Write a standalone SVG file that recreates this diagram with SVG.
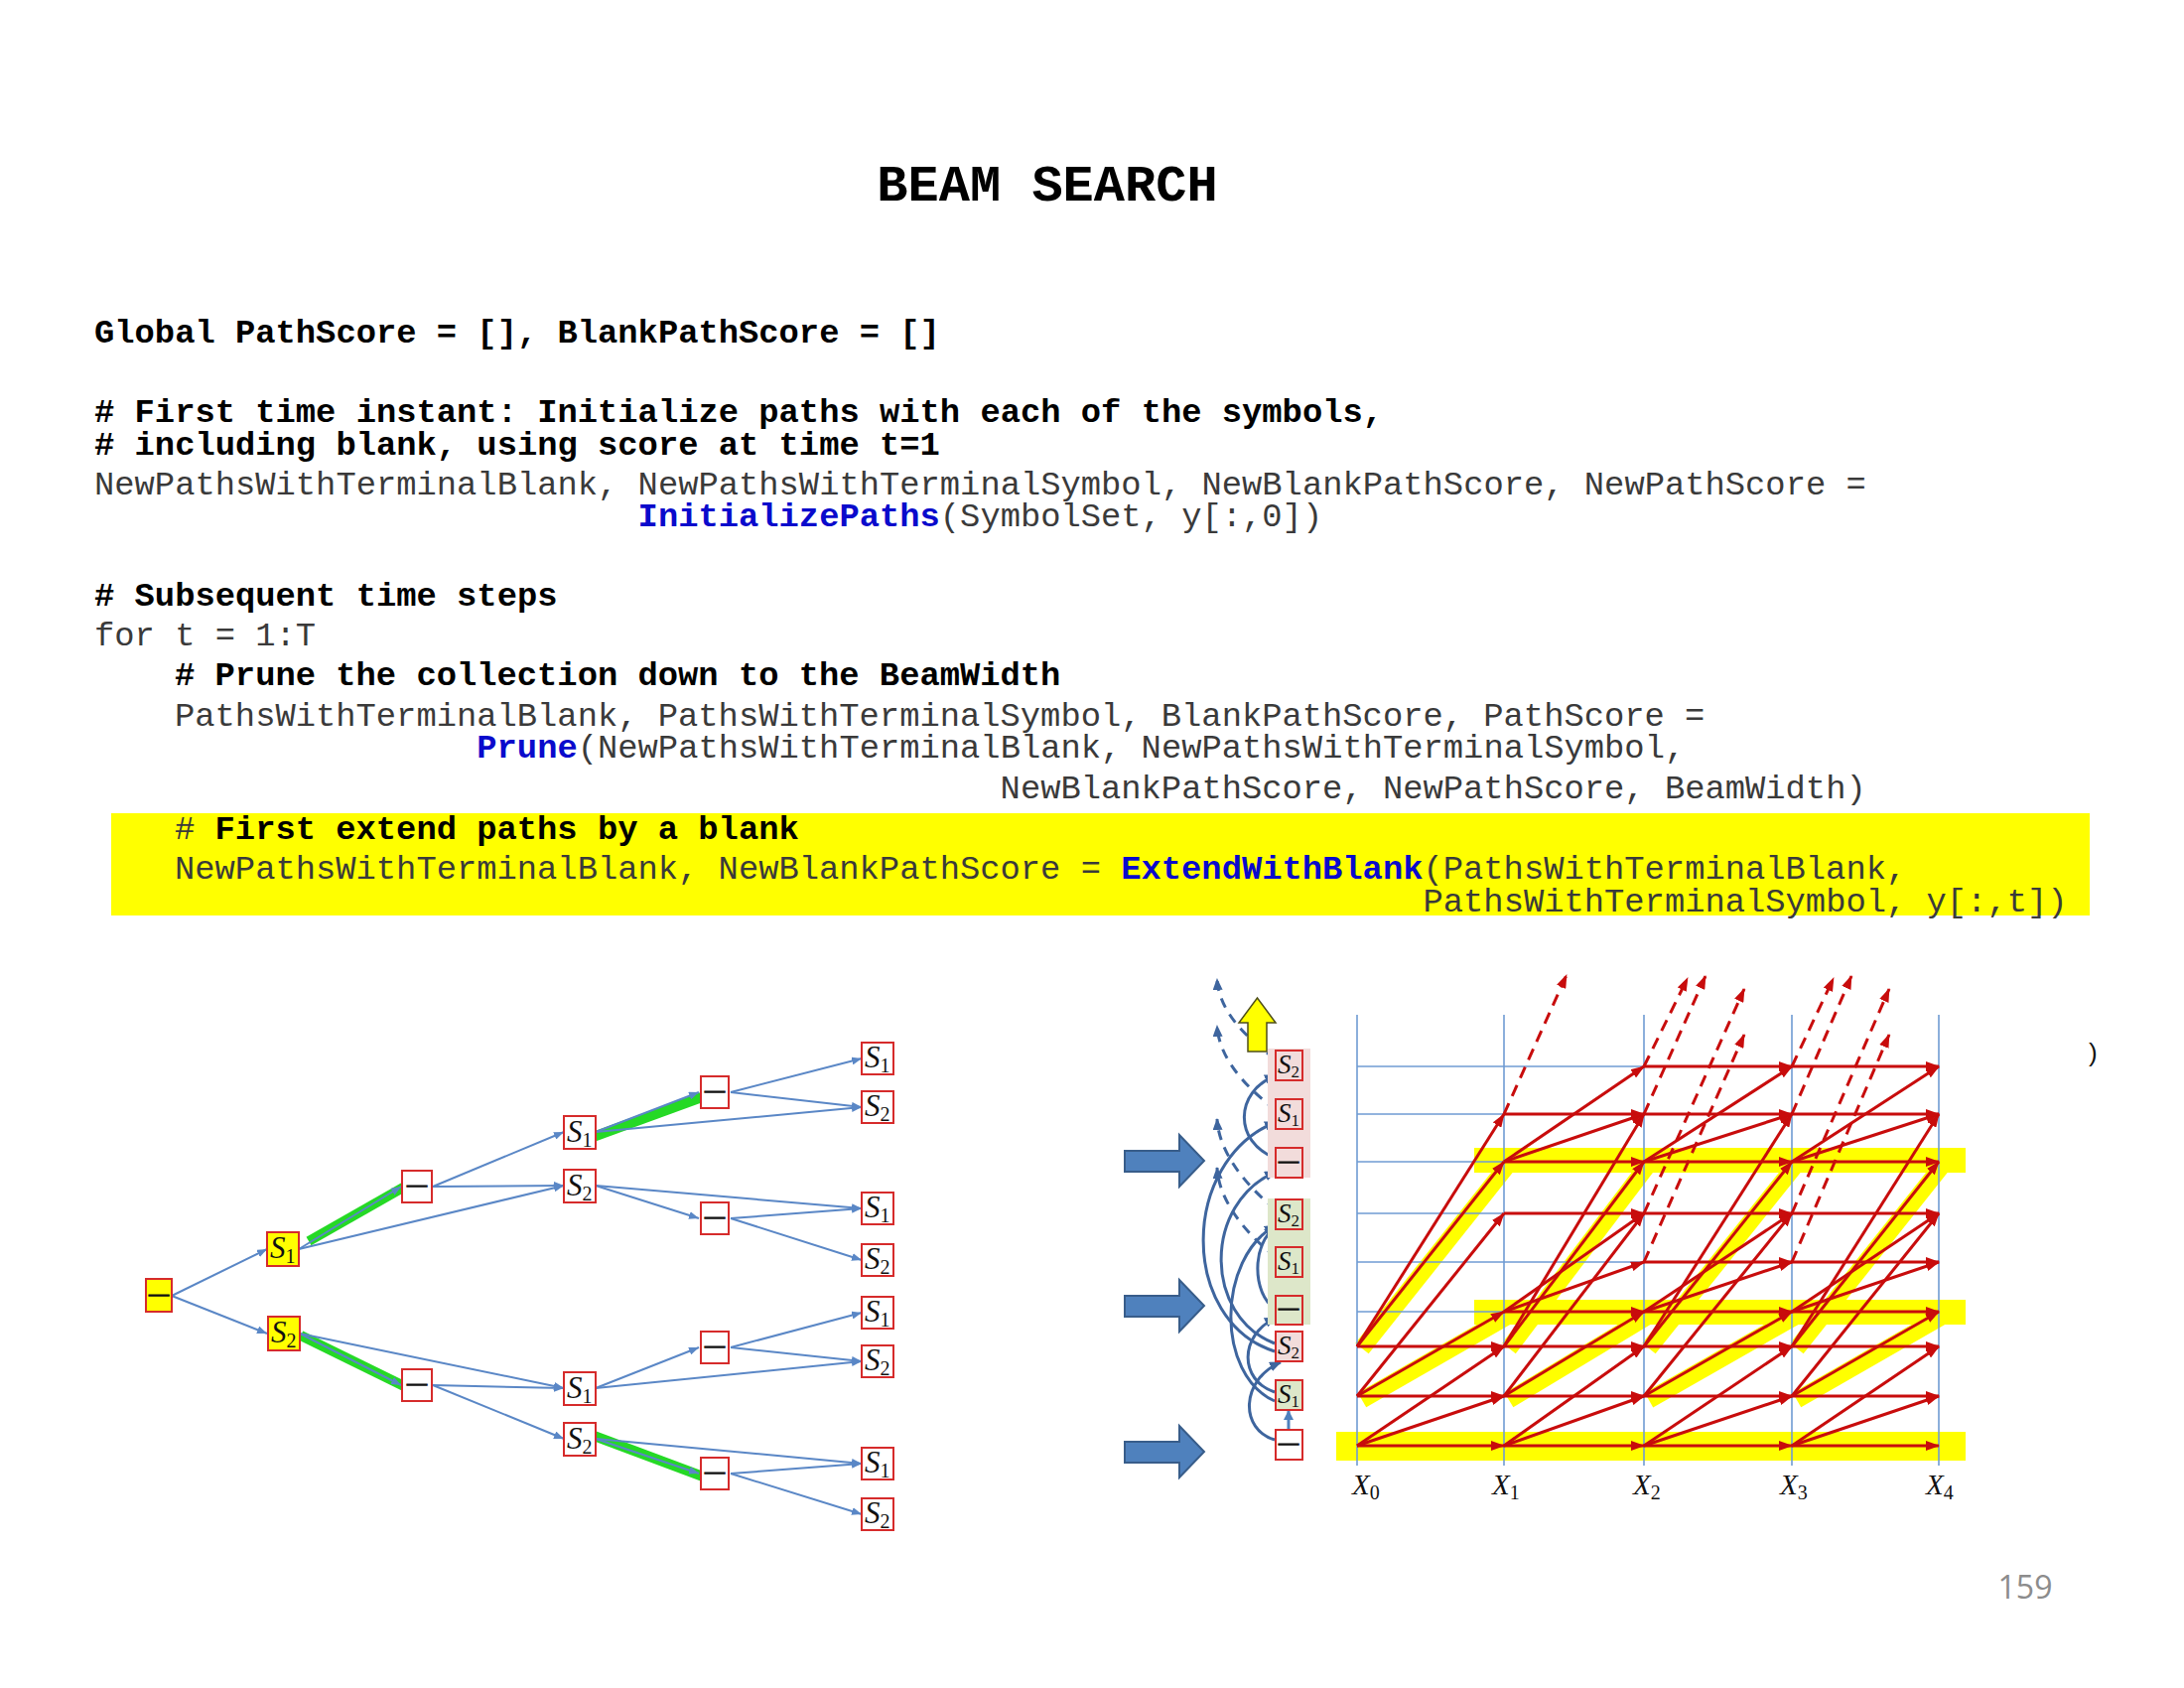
<svg xmlns="http://www.w3.org/2000/svg" width="2200" height="1700" viewBox="0 0 2200 1700">
<style>
  .code { font-family: "Liberation Mono", "Courier New", monospace; font-size: 33.8px; white-space: pre; }
  .cb { font-weight: bold; fill: #000; }
  .cr { fill: #3a3a3a; }
  .fn { font-weight: bold; fill: #0a0acc; }
  .title { font-family: "Liberation Mono", monospace; font-size: 52px; font-weight: bold; fill: #000; }
  .box { fill: #fff; stroke: #d62b2b; stroke-width: 2; }
  .ybox { fill: #ffff00; stroke: #d62b2b; stroke-width: 2; }
  .sym { font-family: "Liberation Serif", "Times New Roman", serif; font-style: italic; font-size: 31px; fill: #111; }
  .sub { font-style: normal; font-size: 20px; }
  .ssym { font-size: 27px; }
  .ssub { font-size: 17px; }
  .blank { font-family: "Liberation Serif", serif; font-size: 20px; fill: #111; stroke: #111; stroke-width: 1.1; text-anchor: middle; }
  .tedge { stroke: #5a87c6; stroke-width: 2; fill: none; marker-end: url(#ab); }
  .green { stroke: #25d925; stroke-width: 10; stroke-linecap: butt; }
  .grid { stroke: #6f9bd3; stroke-width: 1.6; }
  .red { stroke: #c80c0c; stroke-width: 3; marker-end: url(#ar); }
  .reddash { stroke: #c80c0c; stroke-width: 3; stroke-dasharray: 12 8; fill: none; marker-end: url(#ar); }
  .hl { stroke: #ffff00; stroke-width: 17; stroke-linecap: butt; }
  .curve { stroke: #3e659e; stroke-width: 3; fill: none; marker-end: url(#ad); }
  .cdash { stroke: #3e659e; stroke-width: 3; fill: none; stroke-dasharray: 10 8; marker-end: url(#ad); }
  .up { stroke: #4f81bd; stroke-width: 3; marker-end: url(#au); }
  .xl { font-family: "Liberation Serif", serif; font-style: italic; font-size: 29px; fill: #111; }
  .bigarrow { fill: #4f81bd; stroke: #385d8a; stroke-width: 2; }
</style>
<defs>
  <marker id="ab" viewBox="0 0 10 8" refX="10" refY="4" markerWidth="10" markerHeight="8" markerUnits="userSpaceOnUse" orient="auto"><path d="M0,0 L10,4 L0,8 z" fill="#5a87c6"/></marker>
  <marker id="ar" viewBox="0 0 14 10" refX="13" refY="5" markerWidth="14" markerHeight="10" markerUnits="userSpaceOnUse" orient="auto"><path d="M0,0 L14,5 L0,10 z" fill="#c80c0c"/></marker>
  <marker id="ad" viewBox="0 0 12 10" refX="11" refY="5" markerWidth="12" markerHeight="10" markerUnits="userSpaceOnUse" orient="auto"><path d="M0,0 L12,5 L0,10 z" fill="#3e659e"/></marker>
  <marker id="au" viewBox="0 0 10 10" refX="9" refY="5" markerWidth="10" markerHeight="10" markerUnits="userSpaceOnUse" orient="auto"><path d="M0,0 L10,5 L0,10 z" fill="#4f81bd"/></marker>
</defs>
<rect x="0" y="0" width="2200" height="1700" fill="#fff"/>

<!-- heading -->
<text class="title" x="1055" y="202" text-anchor="middle">BEAM SEARCH</text>

<!-- pseudocode -->
<g id="code" class="code">
  <text class="cb" x="95" y="345">Global PathScore = [], BlankPathScore = []</text>
  <text class="cb" x="95" y="425"># First time instant: Initialize paths with each of the symbols,</text>
  <text class="cb" x="95" y="458"># including blank, using score at time t=1</text>
  <text class="cr" x="95" y="498">NewPathsWithTerminalBlank, NewPathsWithTerminalSymbol, NewBlankPathScore, NewPathScore =</text>
  <text x="642.6" y="530"><tspan class="fn">InitializePaths</tspan><tspan class="cr">(SymbolSet, y[:,0])</tspan></text>
  <text class="cb" x="95" y="610"># Subsequent time steps</text>
  <text class="cr" x="95" y="650">for t = 1:T</text>
  <text class="cb" x="176" y="690"># Prune the collection down to the BeamWidth</text>
  <text class="cr" x="176" y="731">PathsWithTerminalBlank, PathsWithTerminalSymbol, BlankPathScore, PathScore =</text>
  <text x="480.3" y="763"><tspan class="fn">Prune</tspan><tspan class="cr">(NewPathsWithTerminalBlank, NewPathsWithTerminalSymbol,</tspan></text>
  <text class="cr" x="1007.6" y="804">NewBlankPathScore, NewPathScore, BeamWidth)</text>
  <rect x="112" y="819" width="1993" height="103" fill="#ffff00"/>
  <text x="176" y="845"><tspan class="cr">#</tspan><tspan class="cb"> First extend paths by a blank</tspan></text>
  <text x="176" y="885"><tspan class="cr">NewPathsWithTerminalBlank, NewBlankPathScore = </tspan><tspan class="fn">ExtendWithBlank</tspan><tspan class="cr">(PathsWithTerminalBlank,</tspan></text>
  <text class="cr" x="1433.5" y="918">PathsWithTerminalSymbol, y[:,t])</text>
</g>

<!-- ===== path tree (left) ===== -->
<g id="tree-connectors">
  <line class="green" x1="311" y1="1250" x2="420" y2="1188"/>
  <line class="green" x1="303" y1="1345" x2="407" y2="1396"/>
  <line class="green" x1="592" y1="1147" x2="707" y2="1105"/>
  <line class="green" x1="593" y1="1444" x2="708" y2="1487"/>
  <line class="tedge" x1="173" y1="1305" x2="269" y2="1258"/>
  <line class="tedge" x1="173" y1="1305" x2="269" y2="1343"/>
  <line class="tedge" x1="301" y1="1258" x2="404" y2="1195"/>
  <line class="tedge" x1="301" y1="1258" x2="568" y2="1194"/>
  <line class="tedge" x1="302" y1="1343" x2="404" y2="1395"/>
  <line class="tedge" x1="302" y1="1343" x2="568" y2="1398"/>
  <line class="tedge" x1="436" y1="1195" x2="568" y2="1140"/>
  <line class="tedge" x1="436" y1="1195" x2="568" y2="1194"/>
  <line class="tedge" x1="436" y1="1395" x2="568" y2="1398"/>
  <line class="tedge" x1="436" y1="1395" x2="568" y2="1449"/>
  <line class="tedge" x1="600" y1="1140" x2="704" y2="1100"/>
  <line class="tedge" x1="600" y1="1140" x2="868" y2="1115"/>
  <line class="tedge" x1="600" y1="1194" x2="704" y2="1227"/>
  <line class="tedge" x1="600" y1="1194" x2="868" y2="1217"/>
  <line class="tedge" x1="600" y1="1398" x2="704" y2="1357"/>
  <line class="tedge" x1="600" y1="1398" x2="868" y2="1371"/>
  <line class="tedge" x1="600" y1="1449" x2="704" y2="1484"/>
  <line class="tedge" x1="600" y1="1449" x2="868" y2="1474"/>
  <line class="tedge" x1="736" y1="1100" x2="868" y2="1066"/>
  <line class="tedge" x1="736" y1="1100" x2="868" y2="1115"/>
  <line class="tedge" x1="736" y1="1227" x2="868" y2="1217"/>
  <line class="tedge" x1="736" y1="1227" x2="868" y2="1269"/>
  <line class="tedge" x1="736" y1="1357" x2="868" y2="1322"/>
  <line class="tedge" x1="736" y1="1357" x2="868" y2="1371"/>
  <line class="tedge" x1="736" y1="1484" x2="868" y2="1474"/>
  <line class="tedge" x1="736" y1="1484" x2="868" y2="1525"/>
</g>

<g id="t-root"><rect class="ybox" x="147" y="1288" width="26" height="33"/><text class="blank" x="160" y="1310">—</text></g>
<g id="t-a1"><rect class="ybox" x="269" y="1241" width="32" height="34"/><text class="sym" x="272" y="1267">S<tspan class="sub" dy="5">1</tspan></text></g>
<g id="t-a2"><rect class="ybox" x="270" y="1326" width="32" height="34"/><text class="sym" x="273" y="1352">S<tspan class="sub" dy="5">2</tspan></text></g>
<g id="t-b1"><rect class="box" x="405" y="1179" width="30" height="32"/><text class="blank" x="420" y="1200">—</text></g>
<g id="t-b2"><rect class="box" x="405" y="1379" width="30" height="32"/><text class="blank" x="420" y="1400">—</text></g>
<g id="t-c1"><rect class="box" x="568" y="1124" width="32" height="33"/><text class="sym" x="571" y="1150">S<tspan class="sub" dy="5">1</tspan></text></g>
<g id="t-c2"><rect class="box" x="568" y="1178" width="32" height="33"/><text class="sym" x="571" y="1204">S<tspan class="sub" dy="5">2</tspan></text></g>
<g id="t-c3"><rect class="box" x="568" y="1382" width="32" height="33"/><text class="sym" x="571" y="1408">S<tspan class="sub" dy="5">1</tspan></text></g>
<g id="t-c4"><rect class="box" x="568" y="1433" width="32" height="33"/><text class="sym" x="571" y="1459">S<tspan class="sub" dy="5">2</tspan></text></g>
<g id="t-d1"><rect class="box" x="706" y="1084" width="28" height="32"/><text class="blank" x="720" y="1105">—</text></g>
<g id="t-d2"><rect class="box" x="706" y="1211" width="28" height="32"/><text class="blank" x="720" y="1232">—</text></g>
<g id="t-d3"><rect class="box" x="706" y="1341" width="28" height="32"/><text class="blank" x="720" y="1362">—</text></g>
<g id="t-d4"><rect class="box" x="706" y="1468" width="28" height="32"/><text class="blank" x="720" y="1489">—</text></g>
<g id="t-e1"><rect class="box" x="868" y="1050" width="32" height="32"/><text class="sym" x="871" y="1075">S<tspan class="sub" dy="5">1</tspan></text></g>
<g id="t-e2"><rect class="box" x="868" y="1099" width="32" height="32"/><text class="sym" x="871" y="1124">S<tspan class="sub" dy="5">2</tspan></text></g>
<g id="t-e3"><rect class="box" x="868" y="1201" width="32" height="32"/><text class="sym" x="871" y="1226">S<tspan class="sub" dy="5">1</tspan></text></g>
<g id="t-e4"><rect class="box" x="868" y="1253" width="32" height="32"/><text class="sym" x="871" y="1278">S<tspan class="sub" dy="5">2</tspan></text></g>
<g id="t-e5"><rect class="box" x="868" y="1306" width="32" height="32"/><text class="sym" x="871" y="1331">S<tspan class="sub" dy="5">1</tspan></text></g>
<g id="t-e6"><rect class="box" x="868" y="1355" width="32" height="32"/><text class="sym" x="871" y="1380">S<tspan class="sub" dy="5">2</tspan></text></g>
<g id="t-e7"><rect class="box" x="868" y="1458" width="32" height="32"/><text class="sym" x="871" y="1483">S<tspan class="sub" dy="5">1</tspan></text></g>
<g id="t-e8"><rect class="box" x="868" y="1509" width="32" height="32"/><text class="sym" x="871" y="1534">S<tspan class="sub" dy="5">2</tspan></text></g>

<!-- ===== trellis (right) ===== -->
<!-- yellow beam highlights -->
<g id="highlights">
  <rect x="1346" y="1442" width="634" height="29" fill="#ffff00"/>
  <rect x="1485" y="1156" width="495" height="25" fill="#ffff00"/>
  <rect x="1485" y="1309" width="495" height="25" fill="#ffff00"/>
  <line class="hl" x1="1372" y1="1358" x2="1520" y2="1172"/>
  <line class="hl" x1="1372" y1="1410" x2="1520" y2="1325"/>
  <line class="hl" x1="1520" y1="1358" x2="1661" y2="1172"/>
  <line class="hl" x1="1520" y1="1410" x2="1661" y2="1325"/>
  <line class="hl" x1="1661" y1="1358" x2="1810" y2="1172"/>
  <line class="hl" x1="1661" y1="1410" x2="1810" y2="1325"/>
  <line class="hl" x1="1810" y1="1358" x2="1958" y2="1172"/>
  <line class="hl" x1="1810" y1="1410" x2="1958" y2="1325"/>
</g>

<!-- time grid -->
<g id="grid">
  <line class="grid" x1="1367" y1="1022" x2="1367" y2="1476"/>
  <line class="grid" x1="1515" y1="1022" x2="1515" y2="1476"/>
  <line class="grid" x1="1656" y1="1022" x2="1656" y2="1476"/>
  <line class="grid" x1="1805" y1="1022" x2="1805" y2="1476"/>
  <line class="grid" x1="1953" y1="1022" x2="1953" y2="1476"/>
  <line class="grid" x1="1367" y1="1074" x2="1953" y2="1074"/>
  <line class="grid" x1="1367" y1="1122" x2="1953" y2="1122"/>
  <line class="grid" x1="1367" y1="1170" x2="1953" y2="1170"/>
  <line class="grid" x1="1367" y1="1222" x2="1953" y2="1222"/>
  <line class="grid" x1="1367" y1="1271" x2="1953" y2="1271"/>
  <line class="grid" x1="1367" y1="1321" x2="1953" y2="1321"/>
  <line class="grid" x1="1367" y1="1356" x2="1953" y2="1356"/>
  <line class="grid" x1="1367" y1="1406" x2="1953" y2="1406"/>
  <line class="grid" x1="1367" y1="1456" x2="1953" y2="1456"/>
</g>

<g id="connectors">
  <!-- t0 -> t1 -->
  <line class="red" x1="1367" y1="1456" x2="1515" y2="1456"/>
  <line class="red" x1="1367" y1="1456" x2="1515" y2="1406"/>
  <line class="red" x1="1367" y1="1456" x2="1515" y2="1356"/>
  <line class="red" x1="1367" y1="1406" x2="1515" y2="1406"/>
  <line class="red" x1="1367" y1="1406" x2="1515" y2="1321"/>
  <line class="red" x1="1367" y1="1406" x2="1515" y2="1222"/>
  <line class="red" x1="1367" y1="1356" x2="1515" y2="1356"/>
  <line class="red" x1="1367" y1="1356" x2="1515" y2="1170"/>
  <line class="red" x1="1367" y1="1356" x2="1515" y2="1122"/>
  <!-- t1 -> t2 -->
  <line class="red" x1="1515" y1="1456" x2="1656" y2="1456"/>
  <line class="red" x1="1515" y1="1456" x2="1656" y2="1406"/>
  <line class="red" x1="1515" y1="1456" x2="1656" y2="1356"/>
  <line class="red" x1="1515" y1="1406" x2="1656" y2="1406"/>
  <line class="red" x1="1515" y1="1406" x2="1656" y2="1321"/>
  <line class="red" x1="1515" y1="1406" x2="1656" y2="1222"/>
  <line class="red" x1="1515" y1="1356" x2="1656" y2="1356"/>
  <line class="red" x1="1515" y1="1356" x2="1656" y2="1170"/>
  <line class="red" x1="1515" y1="1356" x2="1656" y2="1122"/>
  <line class="red" x1="1515" y1="1321" x2="1656" y2="1321"/>
  <line class="red" x1="1515" y1="1321" x2="1656" y2="1271"/>
  <line class="red" x1="1515" y1="1321" x2="1656" y2="1222"/>
  <line class="red" x1="1515" y1="1222" x2="1656" y2="1222"/>
  <line class="red" x1="1515" y1="1170" x2="1656" y2="1170"/>
  <line class="red" x1="1515" y1="1170" x2="1656" y2="1122"/>
  <line class="red" x1="1515" y1="1170" x2="1656" y2="1074"/>
  <line class="red" x1="1515" y1="1122" x2="1656" y2="1122"/>
  <!-- t2 -> t3 -->
  <line class="red" x1="1656" y1="1456" x2="1805" y2="1456"/>
  <line class="red" x1="1656" y1="1456" x2="1805" y2="1406"/>
  <line class="red" x1="1656" y1="1456" x2="1805" y2="1356"/>
  <line class="red" x1="1656" y1="1406" x2="1805" y2="1406"/>
  <line class="red" x1="1656" y1="1406" x2="1805" y2="1321"/>
  <line class="red" x1="1656" y1="1406" x2="1805" y2="1222"/>
  <line class="red" x1="1656" y1="1356" x2="1805" y2="1356"/>
  <line class="red" x1="1656" y1="1356" x2="1805" y2="1170"/>
  <line class="red" x1="1656" y1="1356" x2="1805" y2="1122"/>
  <line class="red" x1="1656" y1="1321" x2="1805" y2="1321"/>
  <line class="red" x1="1656" y1="1321" x2="1805" y2="1271"/>
  <line class="red" x1="1656" y1="1321" x2="1805" y2="1222"/>
  <line class="red" x1="1656" y1="1271" x2="1805" y2="1271"/>
  <line class="red" x1="1656" y1="1222" x2="1805" y2="1222"/>
  <line class="red" x1="1656" y1="1170" x2="1805" y2="1170"/>
  <line class="red" x1="1656" y1="1170" x2="1805" y2="1122"/>
  <line class="red" x1="1656" y1="1170" x2="1805" y2="1074"/>
  <line class="red" x1="1656" y1="1122" x2="1805" y2="1122"/>
  <line class="red" x1="1656" y1="1074" x2="1805" y2="1074"/>
  <!-- t3 -> t4 -->
  <line class="red" x1="1805" y1="1456" x2="1953" y2="1456"/>
  <line class="red" x1="1805" y1="1456" x2="1953" y2="1406"/>
  <line class="red" x1="1805" y1="1456" x2="1953" y2="1356"/>
  <line class="red" x1="1805" y1="1406" x2="1953" y2="1406"/>
  <line class="red" x1="1805" y1="1406" x2="1953" y2="1321"/>
  <line class="red" x1="1805" y1="1406" x2="1953" y2="1222"/>
  <line class="red" x1="1805" y1="1356" x2="1953" y2="1356"/>
  <line class="red" x1="1805" y1="1356" x2="1953" y2="1170"/>
  <line class="red" x1="1805" y1="1356" x2="1953" y2="1122"/>
  <line class="red" x1="1805" y1="1321" x2="1953" y2="1321"/>
  <line class="red" x1="1805" y1="1321" x2="1953" y2="1271"/>
  <line class="red" x1="1805" y1="1321" x2="1953" y2="1222"/>
  <line class="red" x1="1805" y1="1271" x2="1953" y2="1271"/>
  <line class="red" x1="1805" y1="1222" x2="1953" y2="1222"/>
  <line class="red" x1="1805" y1="1170" x2="1953" y2="1170"/>
  <line class="red" x1="1805" y1="1170" x2="1953" y2="1122"/>
  <line class="red" x1="1805" y1="1170" x2="1953" y2="1074"/>
  <line class="red" x1="1805" y1="1122" x2="1953" y2="1122"/>
  <line class="red" x1="1805" y1="1074" x2="1953" y2="1074"/>
  <!-- extensions leaving the drawn set -->
  <line class="reddash" x1="1515" y1="1122" x2="1578" y2="982"/>
  <line class="reddash" x1="1656" y1="1074" x2="1700" y2="985"/>
  <line class="reddash" x1="1656" y1="1122" x2="1718" y2="983"/>
  <line class="reddash" x1="1656" y1="1222" x2="1757" y2="996"/>
  <line class="reddash" x1="1656" y1="1271" x2="1757" y2="1042"/>
  <line class="reddash" x1="1805" y1="1074" x2="1847" y2="985"/>
  <line class="reddash" x1="1805" y1="1122" x2="1865" y2="983"/>
  <line class="reddash" x1="1805" y1="1222" x2="1903" y2="996"/>
  <line class="reddash" x1="1805" y1="1271" x2="1903" y2="1042"/>

  <!-- state column links -->
  <path class="curve" d="M1284,1450 C1249,1440 1249,1390 1290,1372"/>
  <path class="curve" d="M1284,1402 C1248,1390 1248,1345 1285,1327"/>
  <path class="curve" d="M1284,1411 C1225,1385 1225,1268 1285,1234"/>
  <path class="curve" d="M1284,1353 C1212,1325 1212,1212 1285,1180"/>
  <path class="curve" d="M1284,1361 C1188,1330 1188,1170 1285,1130"/>
  <path class="curve" d="M1284,1318 C1261,1302 1261,1252 1285,1236"/>
  <path class="curve" d="M1284,1166 C1243,1150 1243,1100 1285,1083"/>
  <line class="up" x1="1298" y1="1440" x2="1298" y2="1421"/>
  <line class="up" x1="1298" y1="1304" x2="1298" y2="1286"/>
  <line class="up" x1="1298" y1="1156" x2="1298" y2="1137"/>
  <path class="cdash" d="M1284,1066 C1262,1050 1228,1022 1226,986"/>
  <path class="cdash" d="M1285,1118 C1262,1100 1228,1070 1226,1033"/>
  <path class="cdash" d="M1285,1218 C1262,1200 1228,1165 1226,1127"/>
  <path class="cdash" d="M1285,1266 C1262,1248 1228,1214 1226,1176"/>
</g>

<!-- state column -->
<rect id="group-top-bg" x="1277" y="1056" width="43" height="130" fill="#f2dcdb"/>
<rect id="group-mid-bg" x="1277" y="1207" width="43" height="127" fill="#dde7c9"/>
<g id="s-r0"><rect class="box" x="1285" y="1058" width="27" height="30" style="fill:#f2dcdb"/><text class="sym ssym" x="1287" y="1081">S<tspan class="sub ssub" dy="4">2</tspan></text></g>
<g id="s-r1"><rect class="box" x="1285" y="1107" width="27" height="30" style="fill:#f2dcdb"/><text class="sym ssym" x="1287" y="1130">S<tspan class="sub ssub" dy="4">1</tspan></text></g>
<g id="s-r2"><rect class="box" x="1285" y="1156" width="27" height="30" style="fill:#f2dcdb"/><text class="blank" x="1298" y="1176">—</text></g>
<g id="s-r3"><rect class="box" x="1285" y="1208" width="27" height="30" style="fill:#dde7c9"/><text class="sym ssym" x="1287" y="1231">S<tspan class="sub ssub" dy="4">2</tspan></text></g>
<g id="s-r4"><rect class="box" x="1285" y="1256" width="27" height="30" style="fill:#dde7c9"/><text class="sym ssym" x="1287" y="1279">S<tspan class="sub ssub" dy="4">1</tspan></text></g>
<g id="s-r5"><rect class="box" x="1285" y="1305" width="27" height="29" style="fill:#dde7c9"/><text class="blank" x="1298" y="1324">—</text></g>
<g id="s-r6"><rect class="box" x="1285" y="1341" width="27" height="30" style="fill:#f2dcdb"/><text class="sym ssym" x="1287" y="1364">S<tspan class="sub ssub" dy="4">2</tspan></text></g>
<g id="s-r7"><rect class="box" x="1285" y="1390" width="27" height="30" style="fill:#dde7c9"/><text class="sym ssym" x="1287" y="1413">S<tspan class="sub ssub" dy="4">1</tspan></text></g>
<g id="s-r8"><rect class="box" x="1285" y="1440" width="27" height="30"/><text class="blank" x="1298" y="1460">—</text></g>

<!-- block arrows -->
<g id="beam-arrows">
  <polygon class="bigarrow" points="1133,1159 1188,1159 1188,1143 1213,1169 1188,1195 1188,1180 1133,1180"/>
  <polygon class="bigarrow" points="1133,1305 1188,1305 1188,1289 1213,1315 1188,1341 1188,1326 1133,1326"/>
  <polygon class="bigarrow" points="1133,1452 1188,1452 1188,1436 1213,1462 1188,1488 1188,1473 1133,1473"/>
  <polygon points="1257,1059 1257,1030 1248,1030 1266.5,1005 1285,1030 1276,1030 1276,1059" fill="#ffff00" stroke="#4d4d1a" stroke-width="1.5"/>
</g>

<!-- time axis labels -->
<g id="axis-labels">
  <text class="xl" x="1362" y="1505">X<tspan class="sub" dy="5">0</tspan></text>
  <text class="xl" x="1503" y="1505">X<tspan class="sub" dy="5">1</tspan></text>
  <text class="xl" x="1645" y="1505">X<tspan class="sub" dy="5">2</tspan></text>
  <text class="xl" x="1793" y="1505">X<tspan class="sub" dy="5">3</tspan></text>
  <text class="xl" x="1940" y="1505">X<tspan class="sub" dy="5">4</tspan></text>
</g>

<text x="2104" y="1069" font-family="Liberation Sans, sans-serif" font-size="26" fill="#111">)</text>
<text x="2040" y="1610" text-anchor="middle" font-family="Open Sans, sans-serif" font-size="32" fill="#8c8c8c">159</text>
</svg>
